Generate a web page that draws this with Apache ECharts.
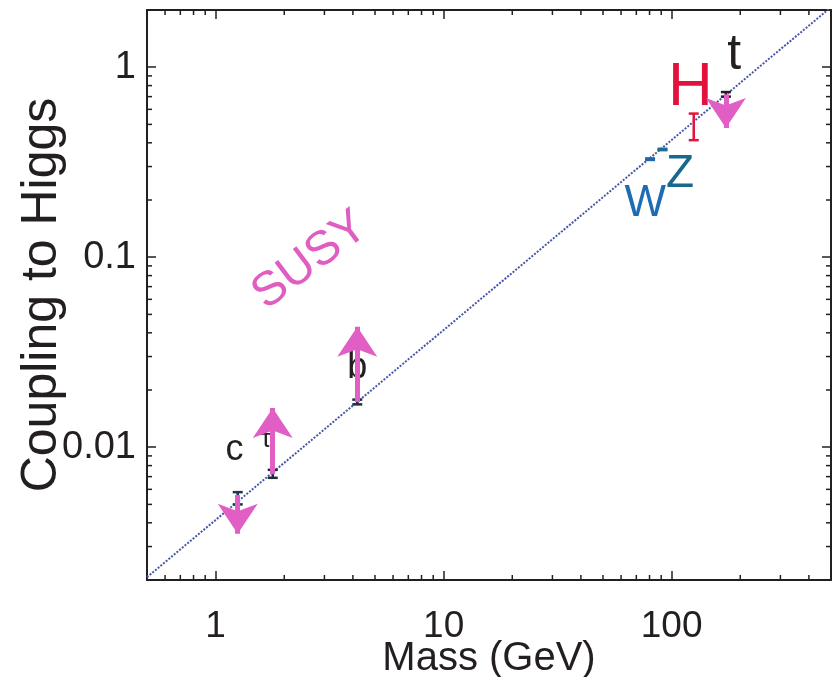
<!DOCTYPE html>
<html>
<head>
<meta charset="utf-8">
<script src="https://cdn.jsdelivr.net/npm/echarts@6/dist/echarts.min.js"></script>
<style>html,body{margin:0;padding:0;background:#fff;}#c{width:840px;height:677px;}</style>
</head>
<body>
<div id="c"></div>
<script>
// ---- data ----
const particles = ['c', 'τ', 'b', 'W', 'Z', 'H', 't'];
const masses = [1.25, 1.78, 4.18, 80.4, 91.2, 125, 173];
const couplingLow = [0.0050, 0.0069, 0.0168, 0.325, 0.366, 0.413, 0.70];
const couplingHigh = [0.0058, 0.0076, 0.0178, 0.331, 0.372, 0.57, 0.74];

const arrowMass = [1.25, 1.78, 4.18, 173];
const arrowFrom = [0.0056, 0.0072, 0.0173, 0.72];
const arrowTo = [0.0035, 0.0161, 0.043, 0.478];

const labelText = ['c', 'τ', 'b', 'W', 'Z', 'H', 't', 'SUSY'];
const labelMass = [1.21, 1.66, 4.18, 76.7, 109, 121, 188, 2.6];
const labelCoupling = [0.0097, 0.0109, 0.026, 0.19, 0.273, 0.78, 1.15, 0.096];

const lineMass = [0.5, 500];
const lineCoupling = [0.00207, 2.07];

const xMinorTicks = [0.6, 0.7, 0.8, 0.9, 2, 3, 4, 5, 6, 7, 8, 9, 20, 30, 40, 50, 60, 70, 80, 90, 200, 300, 400];
const yMinorTicks = [0.003, 0.004, 0.005, 0.006, 0.007, 0.008, 0.009, 0.02, 0.03, 0.04, 0.05, 0.06, 0.07, 0.08, 0.09, 0.2, 0.3, 0.4, 0.5, 0.6, 0.7, 0.8, 0.9];

const xRange = [0.5, 500];
const yRange = [0.002, 2];

// ---- styles ----
const barColors = ['#1f3552', '#1f2a3a', '#1f2f45', '#2166ae', '#1d6c93', '#e0163b', '#231f20'];
const labelStyles = [
  {size: 36, color: '#231f20'},
  {size: 26, color: '#231f20'},
  {size: 36, color: '#231f20'},
  {size: 44, color: '#1d6cb4'},
  {size: 46, color: '#17688c'},
  {size: 62, color: '#e3123c'},
  {size: 50, color: '#231f20'},
  {size: 48, color: '#e05ec2', rotate: 37}
];
const pink = '#e15fc4';
const ink = '#231f20';
const FONT = '"Liberation Sans", Arial, sans-serif';

function isDecade(v) {
  const l = Math.log10(v);
  return Math.abs(l - Math.round(l)) < 1e-6;
}
function fmt(v) {
  if (!isDecade(v)) return '';
  return String(+v.toPrecision(3));
}

const chart = echarts.init(document.getElementById('c'), null, {renderer: 'canvas'});

const tickStyle = {show: true, inside: true, length: 9, lineStyle: {color: ink, width: 1.5}};
const frameLine = {show: true, onZero: false, lineStyle: {color: ink, width: 2}};

const minorData = xMinorTicks.map(v => [v, yRange[0], 0]).concat(yMinorTicks.map(v => [xRange[0], v, 1]));

chart.setOption({
  animation: false,
  backgroundColor: '#fff',
  grid: {left: 147, right: 9, top: 10, bottom: 97, containLabel: false, outerBoundsMode: 'none'},
  xAxis: [
    {
      type: 'log', logBase: 10, min: xRange[0], max: xRange[1], position: 'bottom',
      axisLine: frameLine, axisTick: tickStyle, splitLine: {show: false},
      axisLabel: {formatter: fmt, fontSize: 37, color: ink, fontFamily: FONT, margin: 28},
      name: 'Mass (GeV)', nameLocation: 'middle', nameGap: 59, nameMoveOverlap: false,
      nameTextStyle: {fontSize: 40, color: ink, fontFamily: FONT}
    },
    {
      type: 'log', logBase: 10, min: xRange[0], max: xRange[1], position: 'top',
      axisLine: frameLine, axisTick: tickStyle, splitLine: {show: false}, axisLabel: {show: false}
    }
  ],
  yAxis: [
    {
      type: 'log', logBase: 10, min: yRange[0], max: yRange[1], position: 'left',
      axisLine: frameLine, axisTick: tickStyle, splitLine: {show: false},
      axisLabel: {formatter: fmt, fontSize: 38, color: ink, fontFamily: FONT, margin: 11},
      name: 'Coupling to Higgs', nameLocation: 'middle', nameGap: 80, nameMoveOverlap: false,
      nameTextStyle: {fontSize: 50, color: ink, fontFamily: FONT}
    },
    {
      type: 'log', logBase: 10, min: yRange[0], max: yRange[1], position: 'right',
      axisLine: frameLine, axisTick: tickStyle, splitLine: {show: false}, axisLabel: {show: false}
    }
  ],
  series: [
    {
      type: 'custom', name: 'minorTicks', xAxisIndex: 0, yAxisIndex: 0, silent: true, clip: false,
      data: minorData,
      renderItem: function (params, api) {
        const cs = params.coordSys;
        const p = api.coord([api.value(0), api.value(1)]);
        const L = 5;
        const st = {stroke: ink, lineWidth: 1.5};
        if (api.value(2) === 0) {
          return {type: 'group', children: [
            {type: 'line', shape: {x1: p[0], y1: cs.y + cs.height, x2: p[0], y2: cs.y + cs.height - L}, style: st},
            {type: 'line', shape: {x1: p[0], y1: cs.y, x2: p[0], y2: cs.y + L}, style: st}
          ]};
        }
        return {type: 'group', children: [
          {type: 'line', shape: {x1: cs.x, y1: p[1], x2: cs.x + L, y2: p[1]}, style: st},
          {type: 'line', shape: {x1: cs.x + cs.width, y1: p[1], x2: cs.x + cs.width - L, y2: p[1]}, style: st}
        ]};
      }
    },
    {
      type: 'line', name: 'SM', showSymbol: false, symbol: 'none', silent: true,
      data: lineMass.map((m, i) => [m, lineCoupling[i]]),
      lineStyle: {color: '#4656a8', width: 2, type: [2, 1.5]},
      z: 2
    },
    {
      type: 'custom', name: 'errorBars', silent: true, z: 3,
      data: masses.map((m, i) => ({value: [m, couplingLow[i], couplingHigh[i]], name: particles[i], itemStyle: {color: barColors[i]}})),
      renderItem: function (params, api) {
        const lo = api.coord([api.value(0), api.value(1)]);
        const hi = api.coord([api.value(0), api.value(2)]);
        const w = 5;
        const st = {stroke: api.visual('color'), lineWidth: 2.5};
        return {type: 'group', children: [
          {type: 'line', shape: {x1: lo[0], y1: lo[1], x2: hi[0], y2: hi[1]}, style: st},
          {type: 'line', shape: {x1: lo[0] - w, y1: lo[1], x2: lo[0] + w, y2: lo[1]}, style: st},
          {type: 'line', shape: {x1: hi[0] - w, y1: hi[1], x2: hi[0] + w, y2: hi[1]}, style: st}
        ]};
      }
    },
    {
      type: 'scatter', name: 'labels', silent: true, z: 4,
      symbolSize: 1, itemStyle: {color: 'rgba(0,0,0,0)', opacity: 1},
      data: labelText.map((t, i) => ({
        value: [labelMass[i], labelCoupling[i]], name: t,
        label: {
          show: true, position: 'inside', formatter: t,
          fontSize: labelStyles[i].size, color: labelStyles[i].color, fontFamily: FONT,
          rotate: labelStyles[i].rotate || 0, align: 'center', verticalAlign: 'middle', opacity: 1
        }
      }))
    },
    {
      type: 'lines', name: 'arrows', coordinateSystem: 'cartesian2d', silent: true, z: 5,
      symbol: ['none', 'arrow'], symbolSize: [28, 30],
      lineStyle: {color: pink, width: 5, opacity: 1, curveness: 0},
      data: arrowMass.map((m, i) => ({coords: [[m, arrowFrom[i]], [m, arrowTo[i]]]}))
    }
  ]
});
</script>
</body>
</html>
